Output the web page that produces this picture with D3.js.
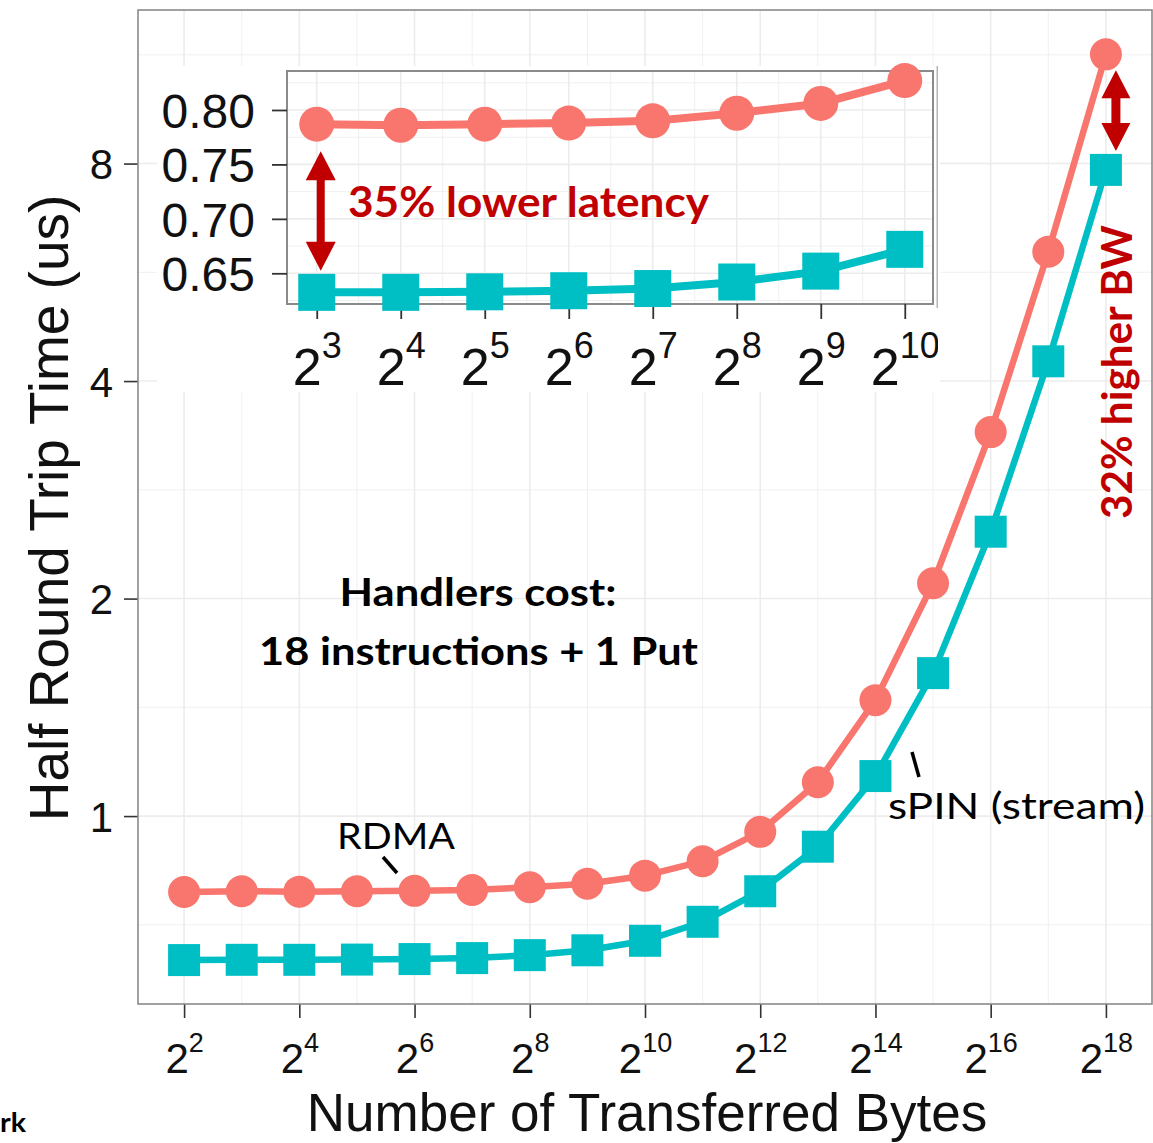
<!DOCTYPE html>
<html>
<head>
<meta charset="utf-8">
<script src="https://cdn.jsdelivr.net/npm/d3@7"></script>
<style>
  html, body { margin: 0; padding: 0; background: #fff; }
  svg { display: block; }
</style>
</head>
<body>
<svg id="chart" width="1153" height="1143"></svg>
<script>
// ---------------- data ----------------
const exponents = [2, 3, 4, 5, 6, 7, 8, 9, 10, 11, 12, 13, 14, 15, 16, 17, 18];
const rdmaValues = [0.785, 0.787, 0.786, 0.787, 0.788, 0.790, 0.797, 0.806, 0.827, 0.866, 0.951, 1.114, 1.447, 2.10, 3.40, 6.04, 11.33];
const spinValues = [0.632, 0.6325, 0.6325, 0.633, 0.634, 0.636, 0.642, 0.652, 0.672, 0.714, 0.787, 0.907, 1.136, 1.577, 2.475, 4.26, 7.84];
const seriesNames = ["RDMA", "sPIN (stream)"];
const seriesColors = ["#F8766D", "#00BFC4"];
const mainXTickExponents = [2, 4, 6, 8, 10, 12, 14, 16, 18];
const mainYTicks = [1, 2, 4, 8];
const insetExponents = [3, 4, 5, 6, 7, 8, 9, 10];
const insetYTicks = [0.65, 0.70, 0.75, 0.80];
const insetYTickLabels = ["0.65", "0.70", "0.75", "0.80"];
const xTitle = "Number of Transferred Bytes";
const yTitle = "Half Round Trip Time (us)";
const latencyNote = "35% lower latency";
const bwNote = "32% higher BW";
const handlerNote = ["Handlers cost:", "18 instructions + 1 Put"];
const cornerText = "rk";

// ---------------- setup ----------------
const svg = d3.select("#chart");
svg.append("rect").attr("width", 1153).attr("height", 1143).attr("fill", "#fff");
const AXIS_FONT = "'Liberation Sans', Arial, Helvetica, sans-serif";
const NOTE_FONT = "Lato, 'Open Sans', sans-serif";
const GRID = "#ececec";
const BORDER = "#8a8a8a";
const TEXT = "#111";
const RED = "#C00000";

const P = {left: 138, right: 1152, top: 10, bottom: 1004};
const x = d3.scaleLog().base(2).domain([Math.pow(2, 1.2), Math.pow(2, 18.8)]).range([P.left, P.right]);
const y = d3.scaleLog().base(2).domain([Math.pow(2, -0.864), Math.pow(2, 3.706)]).range([P.bottom, P.top]);

const rows = exponents.map((e, i) => ({b: Math.pow(2, e), e, rdma: rdmaValues[i], spin: spinValues[i]}));

// ---------------- main grid ----------------
const gMain = svg.append("g");
const minorX = d3.range(3, 18, 2).map(e => Math.pow(2, e));
gMain.selectAll(".mxg").data(minorX).enter().append("line")
  .attr("x1", d => x(d)).attr("x2", d => x(d)).attr("y1", P.top).attr("y2", P.bottom)
  .attr("stroke", GRID).attr("stroke-width", 0.8);
const yBreaksExt = [0.5].concat(mainYTicks, [16]);
const minorY = d3.range(yBreaksExt.length - 1).map(i => Math.sqrt(yBreaksExt[i] * yBreaksExt[i + 1]));
gMain.selectAll(".myg").data(minorY).enter().append("line")
  .attr("x1", P.left).attr("x2", P.right).attr("y1", d => y(d)).attr("y2", d => y(d))
  .attr("stroke", GRID).attr("stroke-width", 0.8);
gMain.selectAll(".Mxg").data(mainXTickExponents.map(e => Math.pow(2, e))).enter().append("line")
  .attr("x1", d => x(d)).attr("x2", d => x(d)).attr("y1", P.top).attr("y2", P.bottom)
  .attr("stroke", GRID).attr("stroke-width", 1.6);
gMain.selectAll(".Myg").data(mainYTicks).enter().append("line")
  .attr("x1", P.left).attr("x2", P.right).attr("y1", d => y(d)).attr("y2", d => y(d))
  .attr("stroke", GRID).attr("stroke-width", 1.6);

// ---------------- main axes ----------------
const xAxis = d3.axisBottom(x).tickValues(mainXTickExponents.map(e => Math.pow(2, e)))
  .tickSize(14).tickSizeOuter(0).tickFormat(() => "");
const gx = gMain.append("g").attr("transform", `translate(0,${P.bottom})`).call(xAxis);
gx.select(".domain").remove();
gx.selectAll(".tick line").attr("stroke", "#333").attr("stroke-width", 1.6);
gx.selectAll(".tick text").each(function(d) {
  const t = d3.select(this).attr("y", 69).attr("dy", 0).attr("fill", TEXT)
    .attr("font-family", AXIS_FONT).attr("text-anchor", "middle");
  t.text(null);
  t.append("tspan").attr("font-size", 42).text("2");
  t.append("tspan").attr("font-size", 27).attr("dy", -21).text(String(Math.round(Math.log2(d))));
});

const yAxis = d3.axisLeft(y).tickValues(mainYTicks).tickSize(14).tickSizeOuter(0).tickPadding(11)
  .tickFormat(d => String(d));
const gy = gMain.append("g").attr("transform", `translate(${P.left},0)`).call(yAxis);
gy.select(".domain").remove();
gy.selectAll(".tick line").attr("stroke", "#333").attr("stroke-width", 1.6);
gy.selectAll(".tick text").attr("font-size", 42).attr("font-family", AXIS_FONT).attr("fill", TEXT).attr("dy", "0.36em");

// axis titles
svg.append("text").attr("x", 647).attr("y", 1131).attr("text-anchor", "middle")
  .attr("font-family", AXIS_FONT).attr("font-size", 53).attr("fill", TEXT).text(xTitle);
svg.append("text").attr("transform", "translate(68,508) rotate(-90)").attr("text-anchor", "middle")
  .attr("font-family", AXIS_FONT).attr("font-size", 55).attr("fill", TEXT).text(yTitle);

// panel border
gMain.append("rect").attr("x", P.left).attr("y", P.top).attr("width", P.right - P.left).attr("height", P.bottom - P.top)
  .attr("fill", "none").attr("stroke", BORDER).attr("stroke-width", 1.6);

// ---------------- main series ----------------
function drawSeries(g, data, xs, ys, key, color, lw, r, sq, shape) {
  const line = d3.line().x(d => xs(d.b)).y(d => ys(d[key]));
  g.append("path").datum(data).attr("d", line).attr("fill", "none")
    .attr("stroke", color).attr("stroke-width", lw).attr("stroke-linejoin", "round");
  if (shape === "circle") {
    g.selectAll(null).data(data).enter().append("circle")
      .attr("cx", d => xs(d.b)).attr("cy", d => ys(d[key])).attr("r", r).attr("fill", color);
  } else {
    g.selectAll(null).data(data).enter().append("rect")
      .attr("x", d => xs(d.b) - sq / 2).attr("y", d => ys(d[key]) - sq / 2)
      .attr("width", sq).attr("height", sq).attr("fill", color);
  }
}
drawSeries(gMain, rows, x, y, "rdma", seriesColors[0], 6.5, 16, 0, "circle");
drawSeries(gMain, rows, x, y, "spin", seriesColors[1], 6.5, 0, 32, "square");

// series labels with pointer ticks
svg.append("text").attr("x", 337).attr("y", 849).attr("font-family", NOTE_FONT).attr("font-size", 37)
  .attr("fill", "#000").attr("textLength", 118).attr("lengthAdjust", "spacingAndGlyphs").text(seriesNames[0]);
svg.append("line").attr("x1", 383).attr("y1", 857).attr("x2", 397).attr("y2", 873)
  .attr("stroke", "#000").attr("stroke-width", 3.5);
svg.append("text").attr("x", 888).attr("y", 819).attr("font-family", NOTE_FONT).attr("font-size", 37)
  .attr("fill", "#000").attr("textLength", 257).attr("lengthAdjust", "spacingAndGlyphs").text(seriesNames[1]);
svg.append("line").attr("x1", 912).attr("y1", 752).attr("x2", 919).attr("y2", 777)
  .attr("stroke", "#000").attr("stroke-width", 3.5);

// handler text
svg.append("text").attr("x", 478).attr("y", 606).attr("text-anchor", "middle").attr("font-family", NOTE_FONT)
  .attr("font-weight", "bold").attr("font-size", 39).attr("fill", "#000")
  .attr("textLength", 277).attr("lengthAdjust", "spacingAndGlyphs").text(handlerNote[0]);
svg.append("text").attr("x", 478.5).attr("y", 665).attr("text-anchor", "middle").attr("font-family", NOTE_FONT)
  .attr("font-weight", "bold").attr("font-size", 39).attr("fill", "#000")
  .attr("textLength", 439).attr("lengthAdjust", "spacingAndGlyphs").text(handlerNote[1]);

// ---------------- inset ----------------
const I = {left: 287, right: 933, top: 71, bottom: 304};
svg.append("rect").attr("x", 157).attr("y", 66).attr("width", 783).attr("height", 326).attr("fill", "#fff");
svg.append("defs").append("clipPath").attr("id", "insetClip")
  .append("rect").attr("x", 150).attr("y", 60).attr("width", 788).attr("height", 340);
const gIn = svg.append("g").attr("clip-path", "url(#insetClip)");
const xi = d3.scaleLog().base(2).domain([Math.pow(2, 2.646), Math.pow(2, 10.336)]).range([I.left, I.right]);
const yi = d3.scaleLinear().domain([0.6218, 0.8358]).range([I.bottom, I.top]);
const insetRows = rows.filter(r => insetExponents.includes(r.e));

// inset grid
const insetMinorX = d3.range(2.5, 11, 1).map(e => Math.pow(2, e)).filter(v => v > xi.domain()[0] && v < xi.domain()[1]);
gIn.selectAll(null).data(insetMinorX).enter().append("line")
  .attr("x1", d => xi(d)).attr("x2", d => xi(d)).attr("y1", I.top).attr("y2", I.bottom)
  .attr("stroke", GRID).attr("stroke-width", 0.8);
const insetMinorY = [0.625, 0.675, 0.725, 0.775, 0.825];
gIn.selectAll(null).data(insetMinorY).enter().append("line")
  .attr("x1", I.left).attr("x2", I.right).attr("y1", d => yi(d)).attr("y2", d => yi(d))
  .attr("stroke", GRID).attr("stroke-width", 0.8);
gIn.selectAll(null).data(insetExponents.map(e => Math.pow(2, e))).enter().append("line")
  .attr("x1", d => xi(d)).attr("x2", d => xi(d)).attr("y1", I.top).attr("y2", I.bottom)
  .attr("stroke", GRID).attr("stroke-width", 1.6);
gIn.selectAll(null).data(insetYTicks).enter().append("line")
  .attr("x1", I.left).attr("x2", I.right).attr("y1", d => yi(d)).attr("y2", d => yi(d))
  .attr("stroke", GRID).attr("stroke-width", 1.6);
gIn.append("rect").attr("x", I.left).attr("y", I.top).attr("width", I.right - I.left).attr("height", I.bottom - I.top)
  .attr("fill", "none").attr("stroke", BORDER).attr("stroke-width", 2);
gIn.append("line").attr("x1", 937.5).attr("x2", 937.5).attr("y1", 66).attr("y2", 308)
  .attr("stroke", "#b5b5b5").attr("stroke-width", 2);

// inset axes
const xiAxis = d3.axisBottom(xi).tickValues(insetExponents.map(e => Math.pow(2, e)))
  .tickSize(15).tickSizeOuter(0).tickFormat(() => "");
const gxi = gIn.append("g").attr("transform", `translate(0,${I.bottom})`).call(xiAxis);
gxi.select(".domain").remove();
gxi.selectAll(".tick line").attr("stroke", "#333").attr("stroke-width", 1.8);
gxi.selectAll(".tick text").each(function(d) {
  const t = d3.select(this).attr("y", 81).attr("dy", 0).attr("fill", TEXT)
    .attr("font-family", AXIS_FONT).attr("text-anchor", "middle");
  t.text(null);
  t.append("tspan").attr("font-size", 52).text("2");
  t.append("tspan").attr("font-size", 36).attr("dy", -27).text(String(Math.round(Math.log2(d))));
});
const yiAxis = d3.axisLeft(yi).tickValues(insetYTicks).tickSize(15).tickSizeOuter(0).tickPadding(17)
  .tickFormat((d, i) => insetYTickLabels[i]);
const gyi = gIn.append("g").attr("transform", `translate(${I.left},0)`).call(yiAxis);
gyi.select(".domain").remove();
gyi.selectAll(".tick line").attr("stroke", "#333").attr("stroke-width", 1.8);
gyi.selectAll(".tick text").attr("font-size", 48).attr("font-family", AXIS_FONT).attr("fill", TEXT).attr("dy", "0.36em");

drawSeries(gIn, insetRows, xi, yi, "rdma", seriesColors[0], 8, 17.5, 0, "circle");
drawSeries(gIn, insetRows, xi, yi, "spin", seriesColors[1], 8, 0, 37, "square");

// ---------------- annotations ----------------
function doubleArrow(cx, y1, y2, shaft, headW, headL) {
  const pts = [
    [cx, y1], [cx + headW / 2, y1 + headL], [cx + shaft / 2, y1 + headL], [cx + shaft / 2, y2 - headL],
    [cx + headW / 2, y2 - headL], [cx, y2], [cx - headW / 2, y2 - headL], [cx - shaft / 2, y2 - headL],
    [cx - shaft / 2, y1 + headL], [cx - headW / 2, y1 + headL]
  ];
  svg.append("polygon").attr("points", pts.map(p => p.join(",")).join(" ")).attr("fill", RED);
}
const first = insetRows[0];
doubleArrow(xi(first.b) + 4, yi(first.rdma) + 27, yi(first.spin) - 21.5, 8, 30, 29);
svg.append("text").attr("x", 348).attr("y", 217).attr("font-family", NOTE_FONT).attr("font-weight", "bold")
  .attr("font-size", 42).attr("fill", RED).attr("textLength", 361).attr("lengthAdjust", "spacingAndGlyphs").text(latencyNote);

const last = rows[rows.length - 1];
doubleArrow(x(last.b) + 10, y(last.rdma) + 16, y(last.spin) - 19, 9, 29, 28);
svg.append("text").attr("transform", "translate(1132,372) rotate(-90)").attr("text-anchor", "middle")
  .attr("font-family", NOTE_FONT).attr("font-weight", "bold").attr("font-size", 42).attr("fill", RED)
  .attr("textLength", 294).attr("lengthAdjust", "spacingAndGlyphs").text(bwNote);

// stray slide text at bottom-left corner
svg.append("text").attr("x", 0).attr("y", 1132).attr("font-family", NOTE_FONT).attr("font-weight", "bold")
  .attr("font-size", 27).attr("fill", "#000").attr("textLength", 26).attr("lengthAdjust", "spacingAndGlyphs").text(cornerText);
</script>
</body>
</html>
